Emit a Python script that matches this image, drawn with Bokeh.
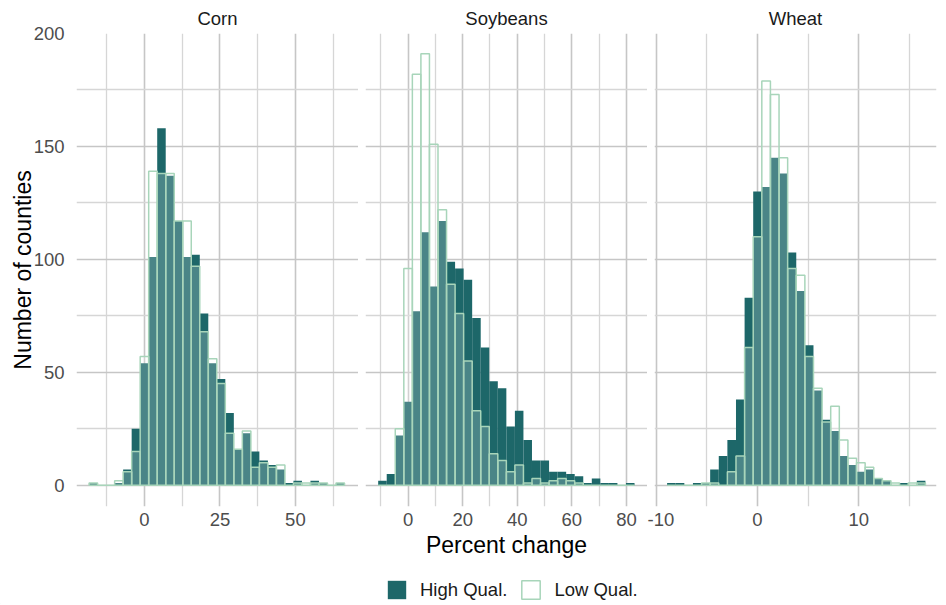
import numpy as np
from bokeh.plotting import figure
from bokeh.models import FixedTicker, Range1d, Legend, LegendItem, ColumnDataSource
from bokeh.layouts import row, column
from bokeh.embed import file_html
from bokeh.resources import INLINE

# ---------------- data (counts per histogram bin) ----------------
crops = ["Corn", "Soybeans", "Wheat"]
series = ["High Qual.", "Low Qual."]

corn_bin_width = 2.82
corn_bin_index = list(range(-6, 24))
corn_high = [1, 0, 0, 1, 7, 25, 54, 101, 158, 137, 117, 101, 102, 76, 54,
             47, 32, 16, 23, 15, 11, 9, 7, 1, 2, 0, 2, 1, 0, 1]
corn_low = [1, 0, 0, 2, 6, 15, 57, 139, 138, 138, 117, 117, 97, 68, 56,
            45, 23, 16, 24, 8, 10, 8, 9, 0, 1, 1, 1, 1, 0, 1]

soy_bin_width = 3.13
soy_bin_index = list(range(-3, 27))
soy_high = [2, 5, 22, 37, 77, 112, 88, 117, 99, 96, 91, 74, 61, 46, 43,
            26, 33, 20, 11, 11, 6, 6, 5, 4, 1, 3, 1, 1, 0, 1]
soy_low = [0, 0, 25, 96, 182, 191, 151, 122, 89, 76, 55, 33, 26, 14, 11,
           6, 9, 1, 3, 1, 2, 3, 2, 1, 0, 0, 0, 0, 0, 0]

wheat_bin_width = 0.85
wheat_bin_index = list(range(-10, 20))
wheat_high = [1, 1, 0, 1, 1, 7, 13, 20, 38, 83, 130, 132, 145, 138, 103,
              86, 62, 42, 29, 24, 13, 9, 6, 7, 3, 2, 0, 1, 0, 2]
wheat_low = [0, 0, 0, 0, 1, 1, 0, 6, 13, 61, 110, 179, 173, 145, 96,
             93, 57, 43, 28, 35, 20, 12, 10, 8, 3, 2, 1, 0, 1, 1]

corn_xticks = [0, 25, 50]
corn_xminor = [-12.5, 12.5, 37.5, 62.5]
soy_xticks = [0, 20, 40, 60, 80]
soy_xminor = [-10, 10, 30, 50, 70]
wheat_xticks = [-10, 0, 10]
wheat_xminor = [-5, 5, 15]
y_ticks = [0, 50, 100, 150, 200]
y_minor = [25, 75, 125, 175]

corn_xrange = (-22.5, 70.9)
soy_xrange = (-15.6, 87.7)
wheat_xrange = (-10.17, 17.67)
y_range = (-9.4, 200)

# ---------------- style ----------------
FONT = "Liberation Sans"
HIGH_COLOR = "#1D6769"
LOW_LINE = "#A8D5BA"
MAJOR_GRID = "#C6C6C6"
MINOR_GRID = "#D6D6D6"
BOTTOM = 62


def make_panel(name, bw, idx, high, low, xr, xt, xm, left_border, right_border,
               show_y=False, xlabel=None):
    centers = [bw * k for k in idx]
    src = ColumnDataSource(dict(x=centers, high=high, low=low))
    p = figure(frame_width=282, frame_height=473,
               x_range=Range1d(*xr), y_range=Range1d(*y_range),
               output_backend="svg", toolbar_location=None,
               min_border_left=left_border, min_border_right=right_border,
               min_border_top=33, min_border_bottom=BOTTOM, title=name)
    p.outline_line_color = None
    p.background_fill_color = "white"
    p.border_fill_color = "white"

    p.title.align = "center"
    p.title.text_font = FONT
    p.title.text_font_size = "18.5px"
    p.title.text_font_style = "normal"
    p.title.text_color = "#1A1A1A"
    p.title.standoff = 9

    p.vbar(x="x", top="high", bottom=0, width=bw, source=src,
           fill_color=HIGH_COLOR, line_color=None)
    p.vbar(x="x", top="low", bottom=0, width=bw, source=src,
           fill_color="white", fill_alpha=0.2, line_color=LOW_LINE,
           line_width=1.5)

    xa = p.xaxis[0]
    xa.ticker = FixedTicker(ticks=xt, minor_ticks=xm)
    xa.axis_line_color = None
    xa.major_tick_line_color = None
    xa.minor_tick_line_color = None
    xa.major_label_text_font = FONT
    xa.major_label_text_font_size = "18.5px"
    xa.major_label_text_color = "#4D4D4D"
    xa.major_label_standoff = 0
    xa.major_label_overrides = {t: str(t) for t in xt}
    if xlabel:
        xa.axis_label = xlabel
        xa.axis_label_text_font = FONT
        xa.axis_label_text_font_size = "23px"
        xa.axis_label_text_font_style = "normal"
        xa.axis_label_text_color = "#000000"
        xa.axis_label_standoff = 3

    ya = p.yaxis[0]
    ya.ticker = FixedTicker(ticks=y_ticks, minor_ticks=y_minor)
    ya.axis_line_color = None
    ya.major_tick_line_color = None
    ya.minor_tick_line_color = None
    ya.major_label_text_font = FONT
    ya.major_label_text_font_size = "18.5px"
    ya.major_label_text_color = "#4D4D4D"
    ya.major_label_standoff = 6
    if show_y:
        ya.axis_label = "Number of counties"
        ya.axis_label_text_font = FONT
        ya.axis_label_text_font_size = "23px"
        ya.axis_label_text_font_style = "normal"
        ya.axis_label_text_color = "#000000"
        ya.axis_label_standoff = -5
    else:
        ya.visible = False

    for g in (p.xgrid[0], p.ygrid[0]):
        g.grid_line_color = MAJOR_GRID
        g.grid_line_width = 1.6
        g.minor_grid_line_color = MINOR_GRID
        g.minor_grid_line_width = 1.3
    return p


p1 = make_panel(crops[0], corn_bin_width, corn_bin_index, corn_high, corn_low,
                corn_xrange, corn_xticks, corn_xminor, 76, 0, show_y=True)
p2 = make_panel(crops[1], soy_bin_width, soy_bin_index, soy_high, soy_low,
                soy_xrange, soy_xticks, soy_xminor, 7, 0,
                xlabel="Percent change")
p3 = make_panel(crops[2], wheat_bin_width, wheat_bin_index, wheat_high, wheat_low,
                wheat_xrange, wheat_xticks, wheat_xminor, 7, 2)

# ---------------- legend strip (key renderers sit outside the visible range) ----------------
pl = figure(frame_width=938, frame_height=36, x_range=Range1d(0, 1),
            y_range=Range1d(0, 1), output_backend="svg", toolbar_location=None,
            min_border_left=0, min_border_right=0, min_border_top=0,
            min_border_bottom=0)
pl.outline_line_color = None
pl.axis.visible = False
pl.grid.visible = False
key_src = ColumnDataSource(dict(x=[-1.0], top=[0.0]))
kh = pl.vbar(x="x", top="top", width=0.1, source=key_src,
             fill_color=HIGH_COLOR, line_color=None)
kl = pl.vbar(x="x", top="top", width=0.1, source=key_src,
             fill_color="white", fill_alpha=0.2, line_color=LOW_LINE, line_width=1.5)
leg = Legend(items=[LegendItem(label=series[0], renderers=[kh]),
                    LegendItem(label=series[1], renderers=[kl])],
             orientation="horizontal", location=(385, 3))
leg.label_text_font = FONT
leg.label_text_font_size = "18.5px"
leg.label_text_color = "#1A1A1A"
leg.glyph_width = 23
leg.glyph_height = 23
leg.label_standoff = 12
leg.spacing = 12
leg.padding = 0
leg.margin = 0
leg.border_line_color = None
leg.background_fill_alpha = 0
pl.add_layout(leg, "center")

layout = column(row(p1, p2, p3), pl)
open("out.html", "w").write(file_html(layout, INLINE))
